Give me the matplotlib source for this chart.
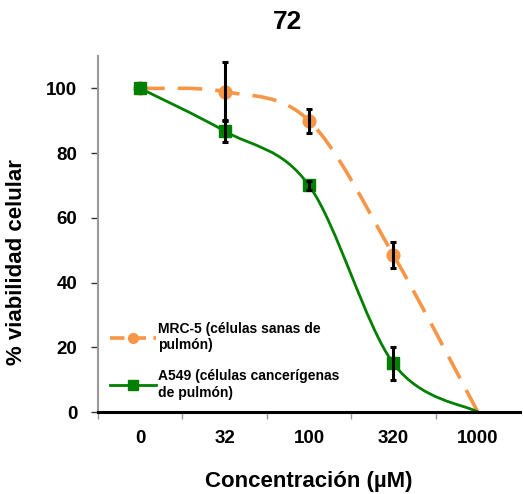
import numpy as np
import matplotlib
matplotlib.use("Agg")
import matplotlib.pyplot as plt
from matplotlib.path import Path
from matplotlib.patches import PathPatch
from matplotlib.lines import Line2D

plt.rcParams['font.family'] = ['Liberation Sans', 'DejaVu Sans']
plt.rcParams['font.weight'] = 'bold'

# Concentrations (µM) and viability (%) for each cell line
concentrations = ["0", "32", "100", "320", "1000"]
mrc5_mean = [100, 99, 90, 48.5, 0]
mrc5_err = [0, 9, 3.7, 4, 0]
a549_mean = [100, 86.8, 70, 15, 0]
a549_err = [0, 3.5, 1.5, 5, 0]

ORANGE = "#F79646"
GREEN = "#008000"


def smooth_path(xs, ys):
    """Cubic Bezier path through the points (Catmull-Rom style smoothing)."""
    pts = np.column_stack([xs, ys]).astype(float)
    n = len(pts)
    verts = [pts[0]]
    codes = [Path.MOVETO]
    for i in range(n - 1):
        p_prev = pts[i - 1] if i > 0 else pts[i]
        p0, p1 = pts[i], pts[i + 1]
        p_next = pts[i + 2] if i + 2 < n else pts[i + 1]
        c1 = p0 + (p1 - p_prev) / 6.0
        c2 = p1 - (p_next - p0) / 6.0
        verts += [c1, c2, p1]
        codes += [Path.CURVE4] * 3
    return Path(verts, codes)


fig = plt.figure(figsize=(5.23, 4.94), dpi=100)
ax = fig.add_axes([98 / 523, 82 / 494, 422 / 523, 356 / 494])

x = np.arange(len(concentrations))

# smoothed curves
ax.add_patch(PathPatch(smooth_path(x, mrc5_mean), fill=False, edgecolor=ORANGE,
                       lw=2.6, linestyle=(0, (6.8, 3.6)), zorder=2))
ax.add_patch(PathPatch(smooth_path(x, a549_mean), fill=False, edgecolor=GREEN,
                       lw=2.0, zorder=2))

# markers (last concentration has no marker)
ax.plot(x[:-1], mrc5_mean[:-1], linestyle='none', marker='o', ms=9.2,
        color=ORANGE, zorder=3)
ax.plot(x[:-1], a549_mean[:-1], linestyle='none', marker='s', ms=8.6,
        color=GREEN, zorder=3)

# error bars
for means, errs in ((mrc5_mean, mrc5_err), (a549_mean, a549_err)):
    idx = [i for i, e in enumerate(errs) if e > 0]
    ax.errorbar(x[idx], np.array(means)[idx], yerr=np.array(errs)[idx],
                fmt='none', ecolor='black', elinewidth=2.2, capsize=2.2,
                capthick=2.2, zorder=4)

ax.set_xlim(-0.5, len(concentrations) - 0.5)
ax.set_ylim(0, 110)

# category boundaries as ticks, labels at centres
ax.set_xticks(np.arange(len(concentrations)) - 0.5)
ax.set_xticklabels([])
ax.set_xticks(x, minor=True)
ax.set_xticklabels(concentrations, minor=True)
ax.tick_params(axis='x', which='major', direction='out', length=5, width=1,
               color='#999999')
ax.tick_params(axis='x', which='minor', length=0, pad=13, labelsize=13.5)
ax.set_yticks([0, 20, 40, 60, 80, 100])
ax.tick_params(axis='y', direction='out', length=5, width=1, color='#333333',
               labelsize=13.5, pad=10)

for side in ('top', 'right'):
    ax.spines[side].set_visible(False)
ax.spines['left'].set_color('#999999')
ax.spines['left'].set_linewidth(1.5)
ax.spines['bottom'].set_color('black')
ax.spines['bottom'].set_linewidth(2.2)
ax.spines['bottom'].set_zorder(5)

ax.set_xlabel("Concentración (µM)", fontsize=16, fontweight='bold', va='center')
ax.xaxis.set_label_coords(0.5, (412 - 481) / 356)
ax.set_ylabel("% viabilidad celular", fontsize=16, fontweight='bold', va='center')
ax.yaxis.set_label_coords((16.5 - 98) / 422, (412 - 262.5) / 356)
fig.text(288 / 523, 1 - 22 / 494, "72", ha='center', va='center',
         fontsize=19, fontweight='bold')

handles = [
    Line2D([], [], color=ORANGE, lw=2.6, linestyle=(0, (4, 2)), marker='o', ms=7),
    Line2D([], [], color=GREEN, lw=2.0, marker='s', ms=6.5),
]
labels = ["MRC-5 (células sanas de\npulmón)",
          "A549 (células cancerígenas\nde pulmón)"]
ax.legend(handles, labels, loc='lower left', bbox_to_anchor=(0.028, 0.035),
          frameon=False, fontsize=10, handlelength=3.3, handletextpad=0.2,
          labelspacing=1.25, borderpad=0, borderaxespad=0)

fig.savefig("out.png", dpi=100)
